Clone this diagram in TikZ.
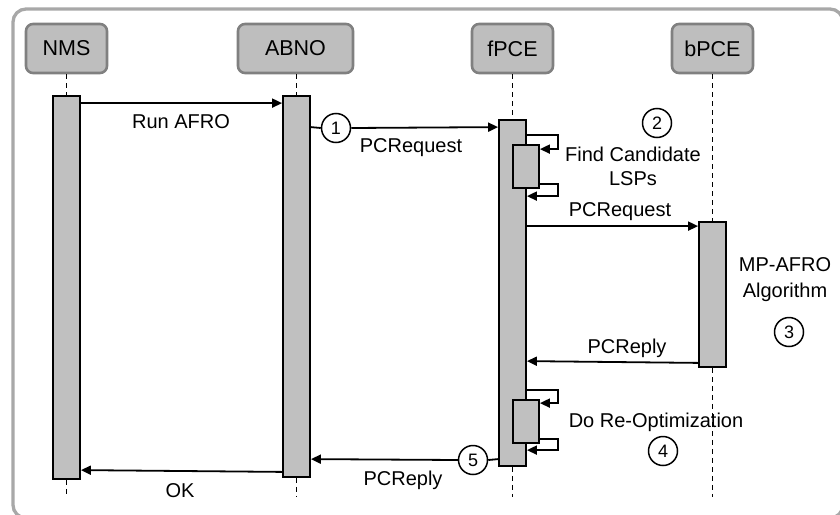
\documentclass[tikz,border=0pt]{standalone}
\usepackage{fontspec}
\setmainfont{Liberation Sans}
\usetikzlibrary{arrows.meta,calc}
\definecolor{framegray}{RGB}{168,168,168}
\definecolor{headfill}{RGB}{190,190,190}
\definecolor{headline}{RGB}{128,128,128}
\definecolor{barfill}{RGB}{192,192,192}
\begin{document}
\begin{tikzpicture}[x=1pt,y=-1pt,
  head/.style={draw=headline,fill=headfill,line width=2.6pt,rounded corners=7pt,minimum height=49pt,inner sep=0pt,font=\fontsize{21.5}{24}\selectfont},
  bar/.style={draw=black,fill=barfill,line width=1.8pt,minimum width=27pt,inner sep=0pt},
  sub/.style={draw=black,fill=barfill,line width=1.8pt,minimum width=26pt,minimum height=43pt,inner sep=0pt},
  life/.style={line width=1.1pt,dash pattern=on 5pt off 4pt},
  msg/.style={line width=1.8pt,-{Triangle[length=10pt,width=9pt]}},
  plain/.style={line width=1.8pt},
  lbl/.style={font=\fontsize{20}{24}\selectfont,inner sep=0pt,align=center},
  num/.style={draw=black,line width=1.5pt,circle,fill=white,minimum size=29pt,inner sep=0pt,font=\fontsize{18}{20}\selectfont}]
\useasboundingbox (0,0) rectangle (840,514);
\draw[framegray,line width=3.3pt,rounded corners=13pt] (13,9) rectangle (843,518);
% headers
\node[head,minimum width=81pt] (nms) at (66.5,48.5) {NMS};
\node[head,minimum width=115pt] (abno) at (295.5,48.5) {ABNO};
\node[head,minimum width=81pt] (fpce) at (512.5,48.5) {fPCE};
\node[head,minimum width=81pt] (bpce) at (712.5,48.5) {bPCE};
% activation bars
\node[bar,minimum height=383pt] (nmsbar) at (66.5,287.5) {};
\node[bar,minimum height=381pt] (abnobar) at (296.5,286.5) {};
\node[bar,minimum height=346pt] (fpcebar) at (512.5,293) {};
\node[bar,minimum height=145pt] (bpcebar) at (712.5,294.5) {};
\node[sub] (n1) at (526,166.5) {};
\node[sub] (n2) at (526,421.5) {};
% lifeline ends
\coordinate (nmsend) at (66.5,497);
\coordinate (abnoend) at (296.5,497);
\coordinate (fpceend) at (512.5,497);
\coordinate (bpceend) at (712.5,497);
\draw[life] (nms.south) -- (nmsbar.north);
\draw[life] (nmsbar.south) -- (nmsend);
\draw[life] (abno.south -| abnobar.north) -- (abnobar.north);
\draw[life] (abnobar.south) -- (abnoend);
\draw[life] (fpce.south) -- (fpcebar.north);
\draw[life] (fpcebar.south) -- (fpceend);
\draw[life] (bpce.south) -- (bpcebar.north);
\draw[life] (bpcebar.south) -- (bpceend);
% Run AFRO
\draw[msg] ($(nmsbar.north east)+(0,8)$) -- ($(abnobar.north west)+(0,8)$);
\node[lbl] (l1) at (181,122) {Run AFRO};
% PCRequest 1
\node[num] (c1) at (336,128) {1};
\draw[plain] ($(abnobar.north east)+(0,32)$) -- (c1.west);
\draw[msg] (c1.east) -- ($(fpcebar.north west)+(0,8)$);
\node[lbl] (l2) at (411,148) {PCRequest};
% find candidate
\node[num] (c2) at (657,123) {2};
\draw[msg] ($(fpcebar.north east)+(0,16)$) -- ++(31,0) |- ($(n1.north east)+(0,5)$);
\draw[msg] ($(n1.south east)+(0,-5)$) -- ++(18,0) |- ($(fpcebar.north east)+(0,77)$);
\node[lbl] (l3) at (633,166) {Find Candidate\\LSPs};
% PCRequest 2
\draw[msg] ($(fpcebar.north east)+(0,107)$) -- ($(bpcebar.north west)+(0,5)$);
\node[lbl] (l4) at (620,212) {PCRequest};
% MP-AFRO
\node[lbl,font=\fontsize{20}{26}\selectfont] (l5) at (785,280) {MP-AFRO\\Algorithm};
\node[num] (c3) at (789,332) {3};
% PCReply
\draw[msg] ($(bpcebar.south west)+(0,-5)$) -- ($(fpcebar.north east)+(0,242)$);
\node[lbl] (l6) at (627,348) {PCReply};
% re-optimization
\draw[msg] ($(fpcebar.north east)+(0,271)$) -- ++(31,0) |- ($(n2.north east)+(0,4)$);
\draw[msg] ($(n2.south east)+(0,-5)$) -- ++(18,0) |- ($(fpcebar.north east)+(0,331)$);
\node[lbl] (l7) at (656,422) {Do Re-Optimization};
\node[num] (c4) at (663,451) {4};
% PCReply 5
\node[num] (c5) at (473,460) {5};
\draw[plain] ($(fpcebar.north west)+(0,340)$) -- (c5.east);
\draw[msg] (c5.west) -- ($(abnobar.north east)+(0,364)$);
\node[lbl] (l8) at (403,480) {PCReply};
% OK
\draw[msg] ($(abnobar.south west)+(0,-6)$) -- ($(nmsbar.north east)+(0,375)$);
\node[lbl] (l9) at (180,491) {OK};
\end{tikzpicture}
\end{document}
